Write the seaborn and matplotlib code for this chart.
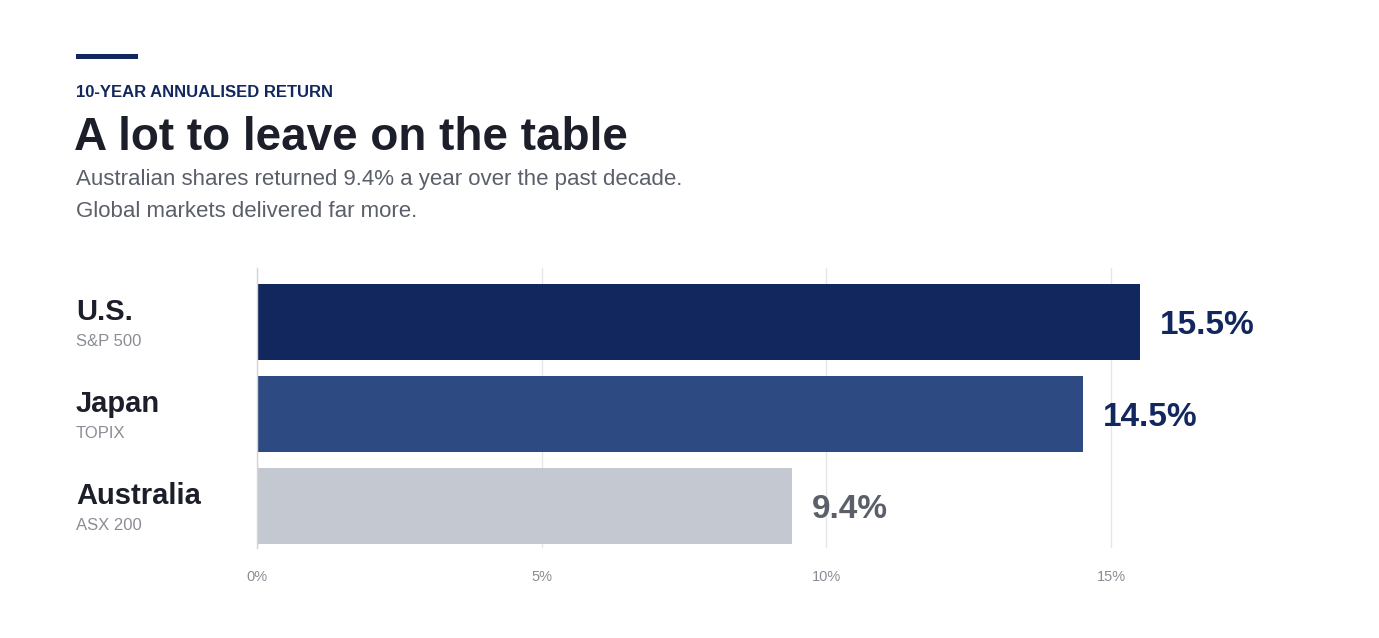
import matplotlib
matplotlib.use("Agg")
import matplotlib.pyplot as plt
import matplotlib.transforms as mtransforms
from matplotlib.patches import Rectangle
import seaborn as sns

# data
markets = ["U.S.", "Japan", "Australia"]
indices = ["S&P 500", "TOPIX", "ASX 200"]
returns = [15.5, 14.5, 9.4]
bar_colors = ["#13275f", "#2d4a82", "#c4c8d0"]
value_colors = ["#13275f", "#13275f", "#5a5f6a"]
xticks = [0, 5, 10, 15]
xtick_labels = ["0%", "5%", "10%", "15%"]

NAVY = "#13275f"
INK = "#1c1f2a"
GREY = "#5a5f6a"
LIGHT = "#8a8d94"

sns.set_theme(style="white")
plt.rcParams["font.family"] = ["Liberation Sans", "DejaVu Sans"]

W, H = 1379, 638
fig = plt.figure(figsize=(W / 100, H / 100), dpi=100, facecolor="white")
ax = fig.add_axes([257 / W, 1 - 548 / H, (1282 - 257) / W, (548 - 268) / H])

sns.barplot(x=returns, y=markets, hue=markets, palette=bar_colors, orient="h",
            width=0.826, saturation=1, legend=False, linewidth=0, ax=ax)

ax.set_xlim(0, 18)
ax.set_ylim(2.457, -0.587)
ax.set_xticks(xticks)
ax.set_xticklabels(xtick_labels, color=LIGHT, fontsize=10.5)
ax.tick_params(axis="x", length=0, pad=16)
ax.set_yticks([])
ax.set_xlabel("")
ax.set_ylabel("")
ax.grid(axis="x", color="#e6e6e6", lw=1)
ax.set_axisbelow(True)
for s in ["top", "right", "bottom"]:
    ax.spines[s].set_visible(False)
ax.spines["left"].set_color("#d5d5d5")
ax.spines["left"].set_linewidth(1)

# value labels
for i, (v, c) in enumerate(zip(returns, value_colors)):
    ax.annotate(f"{v}%", xy=(v, i), xytext=(14.4, 0), textcoords="offset points",
                ha="left", va="center_baseline", fontsize=24, fontweight="bold", color=c)

# category labels
trans = mtransforms.blended_transform_factory(fig.transFigure, ax.transData)
for i, (m, idx) in enumerate(zip(markets, indices)):
    ax.annotate(m, xy=(76 / W, i), xycoords=trans, xytext=(0, 9.4), textcoords="offset points",
                ha="left", va="center_baseline", fontsize=21, fontweight="bold", color=INK)
    ax.annotate(idx, xy=(76 / W, i), xycoords=trans, xytext=(0, -13), textcoords="offset points",
                ha="left", va="center_baseline", fontsize=12, color=LIGHT)

# header
fig.add_artist(Rectangle((76 / W, 1 - 59 / H), 62 / W, 5 / H, transform=fig.transFigure,
                         color=NAVY, lw=0))
fig.text(76 / W, 1 - 91 / H, "10-YEAR ANNUALISED RETURN", fontsize=12, fontweight="bold",
         color=NAVY, ha="left", va="center_baseline")
fig.text(74 / W, 1 - 133 / H, "A lot to leave on the table", fontsize=33, fontweight="bold",
         color=INK, ha="left", va="center_baseline")
fig.text(76 / W, 1 - 177 / H, "Australian shares returned 9.4% a year over the past decade.",
         fontsize=16, color=GREY, ha="left", va="center_baseline")
fig.text(76 / W, 1 - 209 / H, "Global markets delivered far more.",
         fontsize=16, color=GREY, ha="left", va="center_baseline")

fig.savefig("out.png", dpi=100, facecolor="white")
